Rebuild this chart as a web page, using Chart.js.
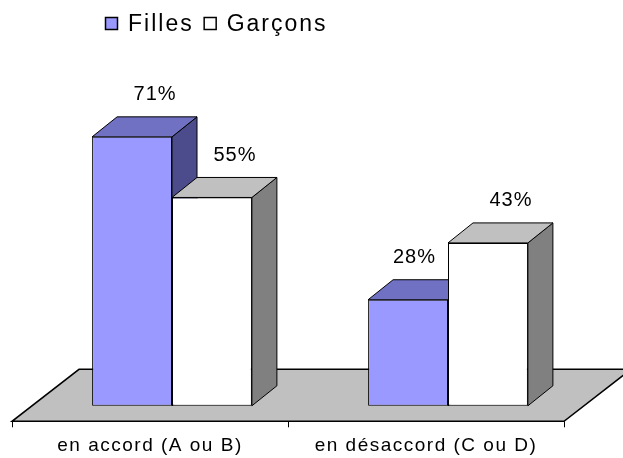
<!DOCTYPE html>
<html>
<head>
<meta charset="utf-8">
<script src="https://cdn.jsdelivr.net/npm/chart.js@4.4.1/dist/chart.umd.min.js"></script>
<style>
  html, body { margin: 0; padding: 0; background: #fff; }
  canvas { display: block; }
</style>
</head>
<body>
<canvas id="chart" width="623" height="458"></canvas>
<script>
const categories = ["en accord (A ou B)", "en désaccord (C ou D)"];
const seriesNames = ["Filles", "Garçons"];
const filles = [71, 28];
const garcons = [55, 43];

const FONT = '"Liberation Sans", Arial, sans-serif';
// oblique offsets for the 3D look
const DEPTH = { dx: 25, dy: -20 };
const FLOOR_FRONT = { dx: -22, dy: 15.5 };
const FLOOR_BACK = { dx: 45, dy: -36.5 };

function poly(ctx, pts, fill) {
  ctx.beginPath();
  ctx.moveTo(pts[0][0], pts[0][1]);
  for (let i = 1; i < pts.length; i++) ctx.lineTo(pts[i][0], pts[i][1]);
  ctx.closePath();
  ctx.fillStyle = fill;
  ctx.fill();
  ctx.stroke();
}

const bar3d = {
  id: "bar3d",
  beforeDraw(chart) {
    // wider text like the original rendering (axis labels too)
    chart.ctx.letterSpacing = "1.5px";
  },
  beforeDatasetsDraw(chart) {
    const { ctx, scales: { x, y } } = chart;
    const base = y.getPixelForValue(0);
    const left = x.getPixelForValue(-0.5);
    const right = x.getPixelForValue(categories.length - 0.5);

    ctx.save();
    ctx.strokeStyle = "#000";
    ctx.lineWidth = 1.5;
    poly(ctx, [
      [left + FLOOR_FRONT.dx, base + FLOOR_FRONT.dy],
      [right + FLOOR_FRONT.dx, base + FLOOR_FRONT.dy],
      [right + FLOOR_BACK.dx, base + FLOOR_BACK.dy],
      [left + FLOOR_BACK.dx, base + FLOOR_BACK.dy]
    ], "#c0c0c0");

    // category ticks on the front edge of the floor
    ctx.lineWidth = 1;
    for (let i = 0; i <= categories.length; i++) {
      const px = Math.round(x.getPixelForValue(i - 0.5) + FLOOR_FRONT.dx) + 0.5;
      ctx.beginPath();
      ctx.moveTo(px, base + FLOOR_FRONT.dy);
      ctx.lineTo(px, base + FLOOR_FRONT.dy + 6);
      ctx.stroke();
    }

    // bars from left to right: side, top, then front
    const bars = [];
    chart.data.datasets.forEach((ds, di) => {
      chart.getDatasetMeta(di).data.forEach(el => bars.push({ el, ds }));
    });
    bars.sort((a, b) => a.el.x - b.el.x);

    bars.forEach(({ el, ds }) => {
      const p = el.getProps(["x", "y", "base", "width"], true);
      const x1 = p.x - p.width / 2, x2 = p.x + p.width / 2;
      ctx.lineWidth = 1;
      poly(ctx, [
        [x2, p.y], [x2 + DEPTH.dx, p.y + DEPTH.dy],
        [x2 + DEPTH.dx, p.base + DEPTH.dy], [x2, p.base]
      ], ds.sideColor);
      poly(ctx, [
        [x1, p.y], [x2, p.y],
        [x2 + DEPTH.dx, p.y + DEPTH.dy], [x1 + DEPTH.dx, p.y + DEPTH.dy]
      ], ds.topColor);
      el.draw(ctx);
    });
    ctx.restore();
    return false;
  },
  afterDraw(chart) {
    const { ctx } = chart;
    const bars = [];
    chart.data.datasets.forEach((ds, di) => {
      chart.getDatasetMeta(di).data.forEach((el, i) => bars.push({ el, value: ds.data[i] }));
    });
    bars.sort((a, b) => a.el.x - b.el.x);

    ctx.save();
    ctx.font = "20px " + FONT;
    ctx.letterSpacing = "1px";
    ctx.fillStyle = "#000";
    ctx.textAlign = "center";
    ctx.textBaseline = "middle";
    bars.forEach((b, i) => {
      const txt = b.value + "%";
      const w = ctx.measureText(txt).width;
      let lx = b.el.x + DEPTH.dx - 2;
      const ly = b.el.y + DEPTH.dy - 22;
      const next = bars[i + 1];
      if (next) {
        const nx1 = next.el.x - next.el.width / 2;
        if (next.el.y + DEPTH.dy < ly + 12 && lx + w / 2 > nx1 - 12) lx = nx1 - w / 2 - 12;
      }
      ctx.fillText(txt, lx, ly);
    });

    // legend
    ctx.font = "23px " + FONT;
    ctx.letterSpacing = "2px";
    ctx.textAlign = "left";
    let lx = 105;
    const cy = 23.5;
    chart.data.datasets.forEach(ds => {
      ctx.fillStyle = ds.backgroundColor;
      ctx.fillRect(lx, cy - 6.5, 13, 13);
      ctx.lineWidth = 1.5;
      ctx.strokeStyle = "#000";
      ctx.strokeRect(lx + 0.5, cy - 6, 12, 12);
      ctx.fillStyle = "#000";
      ctx.fillText(ds.label, lx + 23, cy + 1);
      lx += 23 + ctx.measureText(ds.label).width + 10;
    });
    ctx.restore();
  }
};

new Chart(document.getElementById("chart"), {
  type: "bar",
  data: {
    labels: categories,
    datasets: [
      {
        label: seriesNames[0],
        data: filles,
        backgroundColor: "#9999ff",
        topColor: "#7171c4",
        sideColor: "#4c4c8c",
        borderColor: "#000",
        borderWidth: 1,
        borderSkipped: false
      },
      {
        label: seriesNames[1],
        data: garcons,
        backgroundColor: "#ffffff",
        topColor: "#c0c0c0",
        sideColor: "#808080",
        borderColor: "#000",
        borderWidth: 1,
        borderSkipped: false
      }
    ]
  },
  options: {
    responsive: false,
    animation: false,
    layout: { padding: { top: 27, left: 34, right: 37, bottom: 0 } },
    categoryPercentage: 0.579,
    barPercentage: 1,
    plugins: {
      legend: { display: false },
      tooltip: { enabled: false }
    },
    scales: {
      x: {
        grid: { display: false, drawTicks: false },
        border: { display: false },
        ticks: {
          color: "#000",
          font: { size: 19, family: FONT },
          padding: 29,
          labelOffset: -22,
          maxRotation: 0,
          autoSkip: false
        },
        afterFit(scale) { scale.height = 52.2; }
      },
      y: { display: false, min: 0, max: 100 }
    }
  },
  plugins: [bar3d]
});
</script>
</body>
</html>
